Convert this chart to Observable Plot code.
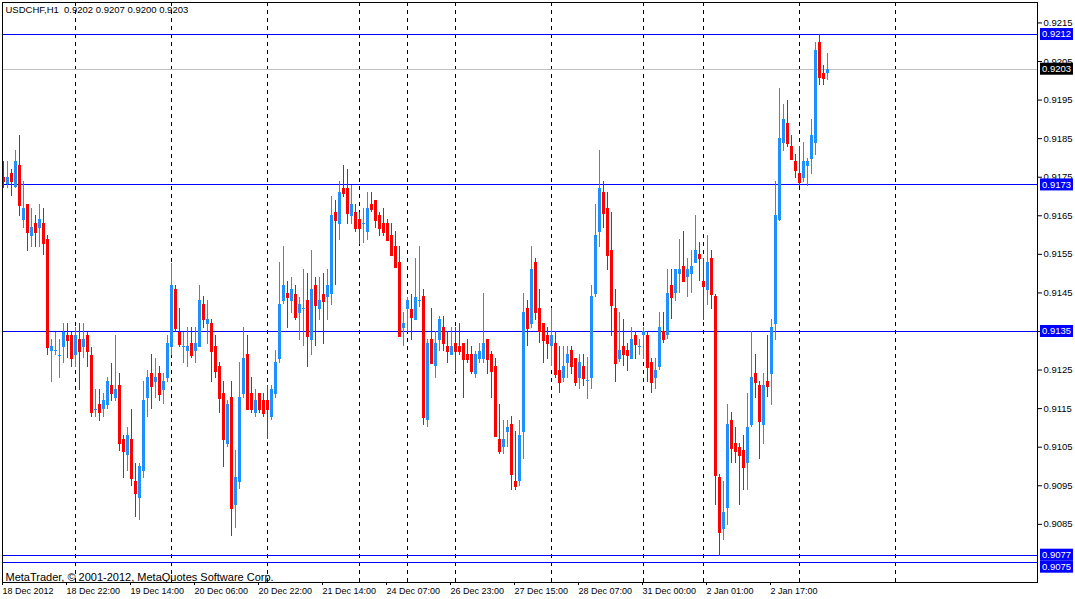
<!DOCTYPE html>
<html><head><meta charset="utf-8">
<script src="https://cdn.jsdelivr.net/npm/d3@7"></script>
<script src="https://cdn.jsdelivr.net/npm/@observablehq/plot@0.6"></script>
<style>
html,body{margin:0;padding:0;background:#fff;}
#chart{width:1075px;height:599px;overflow:hidden;}
svg{display:block;}
svg text{white-space:pre;}
</style></head><body><div id="chart"></div>
<script>
const symbol = "USDCHF,H1";
const copyright = "MetaTrader, © 2001-2012, MetaQuotes Software Corp.";

const opens = [0.9175,0.9173,0.9176,0.91724,0.9178,0.91638,0.91679,0.91597,0.91629,0.91618,
0.9163,0.91588,0.91299,0.91299,0.91288,0.91309,0.91339,0.91339,0.91288,0.91329,
0.91309,0.91339,0.91289,0.91148,0.9116,0.91149,0.91158,0.9121,0.91177,0.9121,
0.9107,0.91028,0.9107,0.90961,0.90918,0.90988,0.91177,0.91241,0.91219,0.91241,
0.91198,0.91229,0.91309,0.91459,0.91348,0.9131,0.91299,0.91319,0.91299,0.91309,
0.9142,0.91369,0.91371,0.91311,0.91259,0.91189,0.91058,0.91179,0.909,0.90959,
0.91187,0.9129,0.91189,0.91138,0.91189,0.91171,0.91171,0.91128,0.91187,0.91278,
0.91429,0.91448,0.91428,0.91447,0.91397,0.91408,0.9143,0.91327,0.91469,0.91408,
0.91447,0.91439,0.91447,0.91658,0.91627,0.91721,0.91721,0.91648,0.91658,0.9164,
0.91628,0.91607,0.9168,0.9169,0.91651,0.91629,0.91629,0.91599,0.9157,0.91529,
0.91358,0.91408,0.91408,0.91378,0.9143,0.91441,0.91118,0.9133,0.91258,0.91327,
0.91361,0.91311,0.91289,0.91319,0.91311,0.91319,0.9129,0.9129,0.91239,0.91278,
0.91278,0.9133,0.9129,0.91259,0.9107,0.91048,0.91089,0.91109,0.90961,0.9096,
0.91089,0.9141,0.91369,0.91529,0.9141,0.91371,0.9134,0.9131,0.91319,0.91249,
0.91229,0.91268,0.91301,0.9128,0.91229,0.91259,0.91221,0.91229,0.91446,0.91607,
0.9171,0.91669,0.9156,0.9141,0.91278,0.91311,0.91301,0.91278,0.91339,0.9131,
0.91339,0.91339,0.9127,0.91229,0.91257,0.91349,0.91339,0.91469,0.91448,0.91499,
0.91518,0.91489,0.91499,0.91527,0.9155,0.91479,0.91456,0.91539,0.91441,0.90971,
0.90837,0.9089,0.91119,0.91059,0.91049,0.91041,0.91008,0.91106,0.9124,0.9121,
0.91106,0.9122,0.91238,0.91368,0.91638,0.91837,0.91889,0.91829,0.9179,0.91759,
0.91746,0.91777,0.91796,0.91837,0.92099,0.92019,0.9202];

const highs = [0.9179,0.9179,0.9177,0.91819,0.91858,0.91739,0.91679,0.91668,0.91651,0.91679,
0.91668,0.91599,0.91329,0.91348,0.91329,0.9137,0.9137,0.91348,0.9136,0.9137,
0.9137,0.91348,0.91309,0.91199,0.91199,0.91188,0.9123,0.91268,0.91339,0.9124,
0.9108,0.911,0.91149,0.91009,0.91009,0.9122,0.91249,0.9129,0.9128,0.91259,
0.91241,0.9134,0.91525,0.91469,0.9141,0.91348,0.9136,0.9136,0.9136,0.91469,
0.91441,0.9143,0.91381,0.9134,0.91269,0.9122,0.91171,0.9122,0.91041,0.9127,
0.9136,0.9134,0.91231,0.912,0.91189,0.91189,0.9121,0.9121,0.91301,0.91529,
0.9157,0.9148,0.9149,0.91469,0.91439,0.91511,0.915,0.9156,0.9149,0.9149,
0.915,0.91511,0.917,0.9169,0.91739,0.9178,0.9177,0.91728,0.9168,0.91658,
0.91669,0.9171,0.9171,0.9169,0.91658,0.91669,0.9164,0.91629,0.91609,0.9157,
0.91399,0.91439,0.91447,0.9154,0.91571,0.91459,0.9133,0.9141,0.9135,0.91389,
0.91389,0.9135,0.91361,0.91361,0.91371,0.91319,0.9133,0.91311,0.91299,0.91319,
0.91449,0.9133,0.91299,0.9128,0.91161,0.9112,0.9112,0.9113,0.91091,0.9112,
0.91449,0.91431,0.91571,0.91539,0.91459,0.91371,0.91361,0.9141,0.9135,0.91312,
0.91312,0.91312,0.91312,0.9128,0.9129,0.9129,0.91283,0.91469,0.91679,0.91819,
0.91739,0.9171,0.91659,0.91459,0.91399,0.9138,0.9132,0.9136,0.91349,0.91329,
0.9136,0.91349,0.9128,0.9128,0.91399,0.91399,0.91511,0.91511,0.91511,0.91588,
0.91609,0.91539,0.9156,0.9165,0.91581,0.91538,0.91599,0.9156,0.91447,0.90979,
0.90961,0.91161,0.9114,0.91101,0.91059,0.9108,0.9119,0.91349,0.9129,0.9122,
0.9124,0.91339,0.91381,0.91739,0.9198,0.91938,0.91949,0.91858,0.91809,0.91829,
0.9184,0.91798,0.91899,0.92099,0.9212,0.9204,0.9207];

const lows = [0.9172,0.9172,0.917,0.9172,0.91649,0.91618,0.91557,0.91568,0.91568,0.91568,
0.91547,0.91288,0.91219,0.91288,0.91229,0.91268,0.91279,0.91257,0.91257,0.91197,
0.91279,0.91257,0.91128,0.91128,0.91117,0.91128,0.91148,0.91168,0.91168,0.91039,
0.9097,0.90988,0.90949,0.90868,0.9086,0.9097,0.91128,0.91149,0.91177,0.91168,
0.9116,0.91219,0.91288,0.91348,0.91308,0.91268,0.91257,0.91279,0.91268,0.91309,
0.91359,0.91317,0.91219,0.91229,0.91138,0.90998,0.91048,0.90819,0.90838,0.9094,
0.91177,0.91148,0.91138,0.91128,0.91138,0.91128,0.91069,0.91119,0.91177,0.91268,
0.9142,0.91359,0.91397,0.91378,0.91327,0.9131,0.91257,0.91288,0.9131,0.91378,
0.91316,0.91378,0.91417,0.91469,0.91586,0.91698,0.91627,0.91627,0.91607,0.91575,
0.91579,0.91586,0.91658,0.91618,0.91597,0.91597,0.91587,0.91548,0.91517,0.91338,
0.9131,0.91348,0.91327,0.91378,0.91413,0.91107,0.911,0.91268,0.91229,0.91299,
0.91299,0.91268,0.91289,0.91245,0.91289,0.91177,0.91268,0.91239,0.91229,0.91268,
0.91268,0.91239,0.91177,0.91079,0.9103,0.9103,0.91048,0.90939,0.90939,0.90949,
0.91019,0.9131,0.91359,0.91379,0.91319,0.91268,0.91278,0.91258,0.91229,0.91188,
0.91219,0.91229,0.91238,0.91208,0.91199,0.91208,0.91173,0.91199,0.91439,0.91569,
0.91617,0.91508,0.91337,0.91219,0.9127,0.91259,0.91247,0.91278,0.91278,0.91289,
0.91278,0.91219,0.91188,0.91199,0.91249,0.91318,0.91328,0.9138,0.91429,0.91448,
0.91479,0.91439,0.91448,0.91527,0.91479,0.91378,0.91417,0.91407,0.90899,0.90767,
0.90808,0.90847,0.91008,0.91008,0.90899,0.90938,0.90938,0.911,0.91175,0.91018,
0.91057,0.9118,0.91158,0.91326,0.91635,0.91816,0.91827,0.91796,0.91746,0.91726,
0.91736,0.91726,0.91757,0.91806,0.91987,0.91987,0.92];

const closes = [0.9174,0.9175,0.9174,0.91791,0.91677,0.91668,0.91607,0.9162,0.91607,0.9164,
0.91579,0.91309,0.91311,0.913,0.91289,0.91348,0.91327,0.91279,0.91339,0.91299,
0.91329,0.91299,0.91139,0.91149,0.91139,0.9117,0.9122,0.91188,0.91199,0.91059,
0.91039,0.9108,0.9097,0.90929,0.91001,0.9117,0.91231,0.91208,0.91231,0.91187,
0.9122,0.91319,0.91469,0.91359,0.91316,0.91311,0.91311,0.91289,0.91319,0.9143,
0.9138,0.91381,0.91299,0.91247,0.91177,0.91069,0.91161,0.9089,0.90971,0.91179,
0.9128,0.91148,0.91148,0.91171,0.91148,0.91138,0.91148,0.912,0.9127,0.9142,
0.91469,0.91438,0.91459,0.91387,0.9142,0.91409,0.91338,0.91459,0.91417,0.9143,
0.91428,0.91469,0.91651,0.91638,0.9171,0.91708,0.91657,0.9168,0.91618,0.91618,
0.91629,0.91669,0.91667,0.91638,0.91618,0.91607,0.91587,0.91548,0.91517,0.91338,
0.9137,0.9143,0.91387,0.91439,0.91431,0.91128,0.91319,0.91268,0.91319,0.91381,
0.91318,0.91299,0.91311,0.91299,0.91299,0.91278,0.91278,0.91247,0.9129,0.91299,
0.91319,0.91278,0.91247,0.91079,0.9104,0.9107,0.91101,0.90978,0.90949,0.91081,
0.91399,0.91359,0.91511,0.91398,0.9135,0.91327,0.91318,0.9134,0.91239,0.91219,
0.91259,0.9129,0.91259,0.91219,0.9127,0.91229,0.91222,0.91441,0.91599,0.9172,
0.91657,0.91548,0.91418,0.91268,0.91301,0.9129,0.91289,0.91329,0.91317,0.91311,
0.91349,0.91257,0.91219,0.91249,0.9136,0.91328,0.91448,0.91439,0.91511,0.91511,
0.91479,0.91511,0.91518,0.9156,0.91539,0.91466,0.91529,0.91446,0.90976,0.90829,
0.90881,0.91109,0.91046,0.91039,0.91028,0.90997,0.91101,0.9123,0.91218,0.91116,
0.9121,0.91207,0.9136,0.91651,0.9185,0.91899,0.91837,0.91796,0.91767,0.91736,
0.9179,0.9179,0.91858,0.92078,0.92008,0.92006,0.9203];

const timeTickBars = [0,16,32,48,64,80,96,112,128,144,160,176,192];
const timeTickLabels = ["18 Dec 2012","18 Dec 22:00","19 Dec 14:00","20 Dec 06:00","20 Dec 22:00",
"21 Dec 14:00","24 Dec 07:00","26 Dec 23:00","27 Dec 15:00","28 Dec 07:00","31 Dec 00:00",
"2 Jan 01:00","2 Jan 17:00"];
const daySeparatorBars = [18,42,66,89,101,113,137,160,175,199,223];
const priceTicks = [0.9215,0.9205,0.9195,0.9185,0.9175,0.9165,0.9155,0.9145,0.9135,0.9125,0.9115,0.9105,0.9095,0.9085];
const levelPrices = [0.9212,0.9173,0.9135,0.9077,0.9075];
const bidPrice = 0.9203;

const BULL = "#1E90FF", BEAR = "#FF0000", LEVEL = "#0000FF", BID = "#C0C0C0";
const FONT = "'Liberation Sans', Arial, sans-serif";

const bars = opens.map((o, i) => ({i, open: o, high: highs[i], low: lows[i], close: closes[i], color: closes[i] >= o ? BULL : BEAR}));
const last = bars[bars.length - 1];
const title = `${symbol}  ${last.open.toFixed(4)} ${last.high.toFixed(4)} ${last.low.toFixed(4)} ${last.close.toFixed(4)}`;
const tickLabelOf = new Map(timeTickBars.map((b, k) => [b, timeTickLabels[k]]));

const chart = Plot.plot({
  width: 1075, height: 599,
  marginLeft: 2, marginRight: 38, marginTop: 2, marginBottom: 17,
  x: {domain: [-0.25, 258.5]},
  y: {domain: [0.906992, 0.92203]},
  style: {fontFamily: FONT, fontSize: "10px", background: "#fff", color: "#000", overflow: "visible"},
  marks: [
    Plot.ruleX(daySeparatorBars, {x: d => d, stroke: "#000", strokeDasharray: "4,4", shapeRendering: "crispEdges"}),
    Plot.ruleY(levelPrices, {y: d => d, stroke: LEVEL, shapeRendering: "crispEdges"}),
    Plot.ruleY([bidPrice], {y: d => d, stroke: BID, shapeRendering: "crispEdges"}),
    Plot.ruleX(bars, {x: "i", y1: "low", y2: "high", stroke: "color", shapeRendering: "crispEdges"}),
    Plot.rect(bars, {x1: d => d.i - 0.375, x2: d => d.i + 0.375, y1: "open", y2: "close", fill: "color", shapeRendering: "crispEdges"}),
    Plot.ruleY(bars, {x1: d => d.i - 0.375, x2: d => d.i + 0.375, y: "close", stroke: "color", shapeRendering: "crispEdges"}),
    Plot.frame({stroke: "#000", shapeRendering: "crispEdges"}),
    Plot.axisY(priceTicks, {anchor: "right", tickSize: 4, tickPadding: 2, tickFormat: d3.format(".4f"), fontSize: 9.5, label: null}),
    Plot.axisX(timeTickBars, {anchor: "bottom", tickSize: 3, tickPadding: 2, tickFormat: d => tickLabelOf.get(d), textAnchor: "start", dx: -1, fontSize: 9, label: null}),
    Plot.text([title], {frameAnchor: "top-left", dx: 3, dy: 4, textAnchor: "start", lineAnchor: "top", fontSize: 9.5, fill: "#000"}),
    Plot.text([copyright], {frameAnchor: "bottom-left", dx: 3, dy: -2, textAnchor: "start", lineAnchor: "bottom", fontSize: 11, fill: "#000"})
  ]
});

// price tags on the right scale, placed through the plot's own y scale
const yScale = chart.scale("y");
const svg = d3.select(chart);
const tags = levelPrices.map(v => ({v, bg: LEVEL})).concat([{v: bidPrice, bg: "#000"}]).sort((a, b) => b.v - a.v);
let prevBottom = -Infinity;
for (const t of tags) {
  let top = yScale.apply(t.v) - 6;
  if (top < prevBottom) top = prevBottom;
  prevBottom = top + 12;
  svg.append("rect").attr("x", 1040).attr("y", top).attr("width", 33).attr("height", 12).attr("fill", t.bg);
  svg.append("text").attr("x", 1042).attr("y", top + 6).attr("dy", "0.35em")
    .attr("text-anchor", "start").attr("fill", "#fff").attr("font-family", FONT).attr("font-size", 9.5)
    .text(t.v.toFixed(4));
}
document.getElementById("chart").appendChild(chart);
</script></body></html>
